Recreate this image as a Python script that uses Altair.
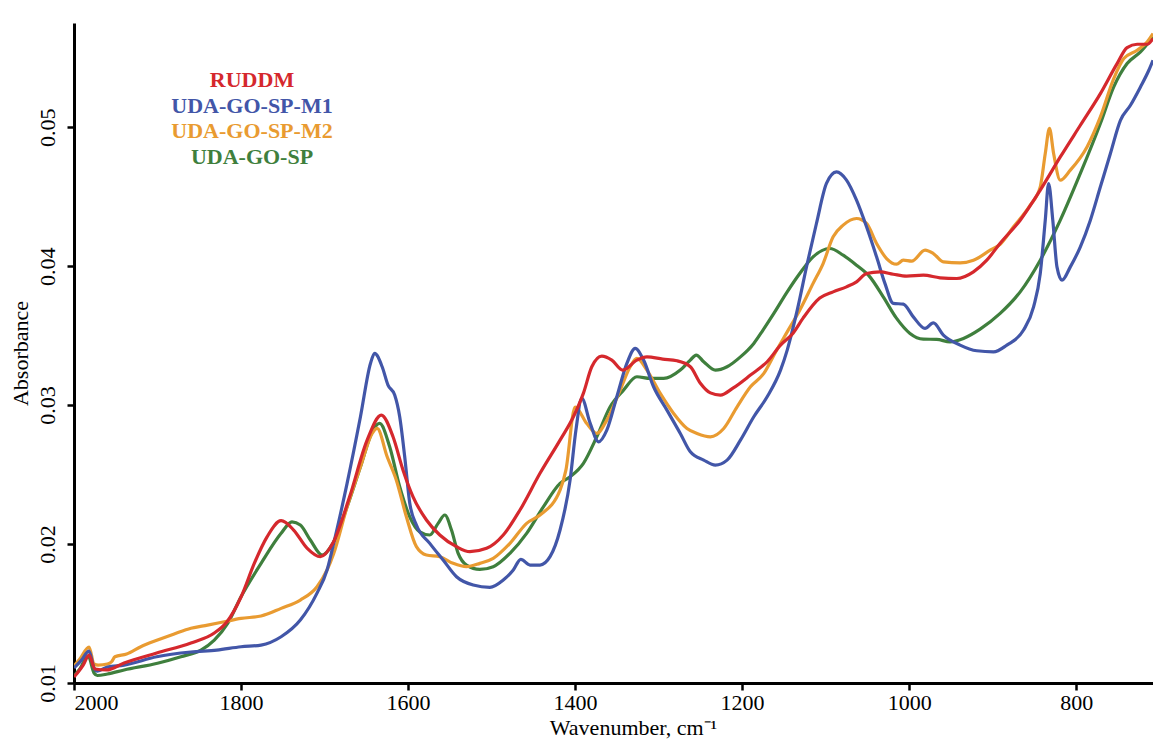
import altair as alt
import pandas as pd

# FTIR absorbance spectra, wavenumber in cm-1
ruddm_wn = [2000, 1989, 1982, 1975, 1961, 1940, 1901, 1860, 1832, 1817, 1800, 1784, 1769, 1752,
            1737, 1721, 1705, 1690, 1670, 1649, 1632, 1618, 1606, 1594, 1578, 1562, 1542, 1526,
            1506, 1486, 1466, 1442, 1418, 1402, 1390, 1380, 1368, 1356, 1343, 1326, 1314, 1295,
            1278, 1262, 1250, 1238, 1226, 1211, 1190, 1170, 1154, 1139, 1127, 1107, 1091, 1075,
            1063, 1051, 1035, 1019, 1003, 983, 963, 943, 923, 907, 891, 867, 843, 819, 795, 771,
            751, 739, 727, 715, 708]
ruddm_abs = [0.01043, 0.01129, 0.01201, 0.01101, 0.01094, 0.01144, 0.01216, 0.01288, 0.01360,
             0.01439, 0.01619, 0.01863, 0.02050, 0.02168, 0.02101, 0.01971, 0.01909, 0.02007,
             0.02340, 0.02748, 0.02928, 0.02772, 0.02532, 0.02340, 0.02173, 0.02065, 0.01981,
             0.01945, 0.01969, 0.02065, 0.02245, 0.02509, 0.02748, 0.02916, 0.03086, 0.03276,
             0.03353, 0.03324, 0.03252, 0.03324, 0.03347, 0.03331, 0.03319, 0.03276, 0.03158,
             0.03088, 0.03072, 0.03122, 0.03216, 0.03312, 0.03432, 0.03518, 0.03626, 0.03770,
             0.03815, 0.03851, 0.03887, 0.03947, 0.03959, 0.03942, 0.03928, 0.03935, 0.03916,
             0.03911, 0.03959, 0.04043, 0.04165, 0.04331, 0.04547, 0.04786, 0.05014, 0.05242,
             0.05458, 0.05573, 0.05597, 0.05597, 0.05638]

m1_wn = [2000, 1991, 1982, 1976, 1972, 1960, 1940, 1901, 1860, 1829, 1800, 1776, 1752, 1729,
         1709, 1697, 1690, 1673, 1657, 1645, 1640, 1631, 1624, 1616, 1610, 1604, 1598, 1590,
         1574, 1558, 1542, 1522, 1502, 1486, 1474, 1465, 1454, 1442, 1430, 1418, 1406, 1399,
         1392, 1382, 1372, 1362, 1350, 1338, 1328, 1318, 1306, 1290, 1274, 1262, 1246, 1232,
         1218, 1202, 1186, 1170, 1154, 1146, 1134, 1122, 1111, 1099, 1087, 1075, 1063, 1051,
         1039, 1029, 1019, 1007, 995, 981, 971, 959, 939, 919, 899, 883, 863, 851, 843, 837,
         833, 828, 823, 817, 807, 795, 783, 771, 759, 747, 735, 723, 713, 708]
m1_abs = [0.01108, 0.01165, 0.01230, 0.01108, 0.01086, 0.01115, 0.01129, 0.01189, 0.01223,
          0.01237, 0.01261, 0.01273, 0.01333, 0.01453, 0.01647, 0.01813, 0.01981, 0.02437,
          0.02916, 0.03300, 0.03372, 0.03276, 0.03144, 0.03072, 0.02916, 0.02628, 0.02295,
          0.02137, 0.02005, 0.01885, 0.01765, 0.01705, 0.01688, 0.01741, 0.01813, 0.01890,
          0.01849, 0.01849, 0.01909, 0.02101, 0.02460, 0.02820, 0.03048, 0.02871, 0.02736,
          0.02820, 0.03060, 0.03300, 0.03408, 0.03324, 0.03132, 0.02964, 0.02796, 0.02664,
          0.02604, 0.02568, 0.02604, 0.02748, 0.02916, 0.03060, 0.03252, 0.03396, 0.03683,
          0.04019, 0.04307, 0.04595, 0.04678, 0.04619, 0.04475, 0.04283, 0.04067, 0.03876,
          0.03732, 0.03727, 0.03635, 0.03552, 0.03592, 0.03504, 0.03432, 0.03391, 0.03383,
          0.03432, 0.03540, 0.03707, 0.03947, 0.04331, 0.04595, 0.04331, 0.03995, 0.03899,
          0.03995, 0.04139, 0.04331, 0.04571, 0.04811, 0.05050, 0.05158, 0.05290, 0.05410,
          0.05482]

m2_wn = [2000, 1993, 1982, 1976, 1971, 1960, 1955, 1951, 1937, 1920, 1900, 1880, 1860, 1840,
         1820, 1800, 1776, 1752, 1729, 1709, 1697, 1689, 1673, 1657, 1643, 1637, 1625, 1614,
         1602, 1590, 1578, 1562, 1546, 1530, 1514, 1498, 1478, 1458, 1442, 1418, 1411, 1400,
         1386, 1374, 1362, 1346, 1334, 1326, 1314, 1298, 1282, 1266, 1254, 1238, 1222, 1206,
         1190, 1174, 1160, 1146, 1131, 1115, 1103, 1091, 1079, 1063, 1051, 1039, 1027, 1015,
         1007, 997, 981, 971, 959, 939, 923, 903, 891, 875, 855, 843, 837, 832, 827, 819, 807,
         787, 771, 755, 743, 727, 715, 708]
m2_abs = [0.01122, 0.01173, 0.01259, 0.01137, 0.01129, 0.01137, 0.01153, 0.01189, 0.01209,
          0.01261, 0.01309, 0.01353, 0.01394, 0.01417, 0.01441, 0.01465, 0.01482, 0.01537,
          0.01597, 0.01693, 0.01813, 0.01933, 0.02268, 0.02556, 0.02796, 0.02832, 0.02628,
          0.02460, 0.02196, 0.01981, 0.01921, 0.01909, 0.01861, 0.01837, 0.01861, 0.01897,
          0.02005, 0.02149, 0.02209, 0.02388, 0.02532, 0.02986, 0.02868, 0.02796, 0.02892,
          0.03108, 0.03276, 0.03336, 0.03252, 0.03084, 0.02940, 0.02832, 0.02796, 0.02772,
          0.02832, 0.02988, 0.03132, 0.03228, 0.03381, 0.03527, 0.03683, 0.03876, 0.04019,
          0.04211, 0.04295, 0.04343, 0.04307, 0.04163, 0.04055, 0.04014, 0.04043, 0.04036,
          0.04115, 0.04091, 0.04031, 0.04024, 0.04043, 0.04115, 0.04158, 0.04283, 0.04439,
          0.04571, 0.04811, 0.04991, 0.04811, 0.04619, 0.04691, 0.04858, 0.05074, 0.05350,
          0.05494, 0.05554, 0.05614, 0.05674]

sp_wn = [2000, 1993, 1983, 1976, 1972, 1960, 1940, 1900, 1872, 1848, 1832, 1816, 1800, 1776,
         1752, 1739, 1729, 1717, 1703, 1690, 1673, 1657, 1642, 1634, 1622, 1610, 1598, 1586,
         1574, 1564, 1556, 1548, 1540, 1530, 1514, 1498, 1478, 1458, 1438, 1418, 1406, 1390,
         1374, 1358, 1342, 1326, 1310, 1294, 1274, 1262, 1255, 1246, 1232, 1218, 1202, 1186,
         1175, 1162, 1146, 1131, 1115, 1095, 1079, 1063, 1047, 1031, 1015, 999, 983, 967, 951,
         935, 915, 891, 867, 843, 819, 795, 771, 755, 739, 723, 708]
sp_abs = [0.01050, 0.01101, 0.01194, 0.01072, 0.01054, 0.01065, 0.01094, 0.01142, 0.01189,
          0.01237, 0.01309, 0.01429, 0.01621, 0.01861, 0.02077, 0.02160, 0.02137, 0.02029,
          0.01921, 0.02005, 0.02268, 0.02556, 0.02820, 0.02868, 0.02700, 0.02412, 0.02196,
          0.02088, 0.02065, 0.02149, 0.02209, 0.02101, 0.01933, 0.01849, 0.01818, 0.01837,
          0.01933, 0.02077, 0.02268, 0.02437, 0.02484, 0.02581, 0.02772, 0.02988, 0.03108,
          0.03204, 0.03192, 0.03192, 0.03252, 0.03324, 0.03360, 0.03312, 0.03252, 0.03276,
          0.03347, 0.03444, 0.03540, 0.03660, 0.03815, 0.03947, 0.04067, 0.04127, 0.04079,
          0.04007, 0.03923, 0.03779, 0.03624, 0.03516, 0.03475, 0.03473, 0.03455, 0.03480,
          0.03547, 0.03660, 0.03815, 0.04043, 0.04331, 0.04667, 0.05027, 0.05290, 0.05458,
          0.05542, 0.05650]

series_names = ["RUDDM", "UDA-GO-SP-M1", "UDA-GO-SP-M2", "UDA-GO-SP"]
series_colors = ["#d5282d", "#4256a8", "#e99b31", "#3f7f3d"]
x_ticks = [2000, 1800, 1600, 1400, 1200, 1000, 800]
y_ticks = [0.01, 0.02, 0.03, 0.04, 0.05]

spectra = {
    "RUDDM": (ruddm_wn, ruddm_abs),
    "UDA-GO-SP-M1": (m1_wn, m1_abs),
    "UDA-GO-SP-M2": (m2_wn, m2_abs),
    "UDA-GO-SP": (sp_wn, sp_abs),
}

FONT = "Liberation Serif"
color_scale = alt.Scale(domain=series_names, range=series_colors)

x_enc = alt.X(
    "wavenumber:Q",
    scale=alt.Scale(domain=[708, 2000], reverse=True, nice=False, zero=False),
    axis=alt.Axis(
        values=x_ticks, format="d", title="Wavenumber, cm\u207b\u00b9",
        titleX=559, titlePadding=4,
    ),
)
y_enc = alt.Y(
    "absorbance:Q",
    scale=alt.Scale(domain=[0.01, 0.0575], nice=False, zero=False),
    axis=alt.Axis(
        values=y_ticks, format=".2f", title="Absorbance",
        labelAngle=270, labelAlign="center", labelBaseline="bottom",
        labelPadding=8, titlePadding=4,
    ),
)

# draw order: green at the bottom, red on top
line_layers = []
for name in ["UDA-GO-SP", "UDA-GO-SP-M2", "UDA-GO-SP-M1", "RUDDM"]:
    wn, ab = spectra[name]
    df = pd.DataFrame({"wavenumber": wn, "absorbance": ab, "series": name})
    line_layers.append(
        alt.Chart(df)
        .mark_line(strokeWidth=3.2, interpolate="monotone", clip=True)
        .encode(
            x=x_enc,
            y=y_enc,
            color=alt.Color("series:N", scale=color_scale, legend=None),
        )
    )
spectra_chart = alt.layer(*line_layers)

legend_df = pd.DataFrame({"series": series_names, "row": list(range(len(series_names)))})
legend = (
    alt.Chart(legend_df)
    .mark_text(font=FONT, fontSize=22, fontWeight="bold", align="center", baseline="middle")
    .encode(
        x=alt.value(178),
        y=alt.Y("row:O", axis=None, scale=alt.Scale(type="point", range=[57, 134], padding=0)),
        text="series:N",
        color=alt.Color("series:N", scale=color_scale, legend=None),
    )
)

chart = (
    alt.layer(spectra_chart, legend)
    .resolve_scale(y="independent")
    .properties(
        width=1079,
        height=660,
        autosize=alt.AutoSizeParams(type="none"),
        padding={"left": 74, "top": 23, "right": 0, "bottom": 60},
        background="white",
    )
    .configure_view(stroke=None)
    .configure_axis(
        grid=False,
        domainColor="black",
        domainWidth=3,
        tickColor="black",
        tickWidth=2.5,
        tickSize=7,
        labelFont=FONT,
        labelFontSize=22,
        labelColor="black",
        titleFont=FONT,
        titleFontSize=22,
        titleFontWeight="normal",
        titleColor="black",
    )
)

chart.save("out.html", embed_options={"renderer": "svg", "actions": False})
